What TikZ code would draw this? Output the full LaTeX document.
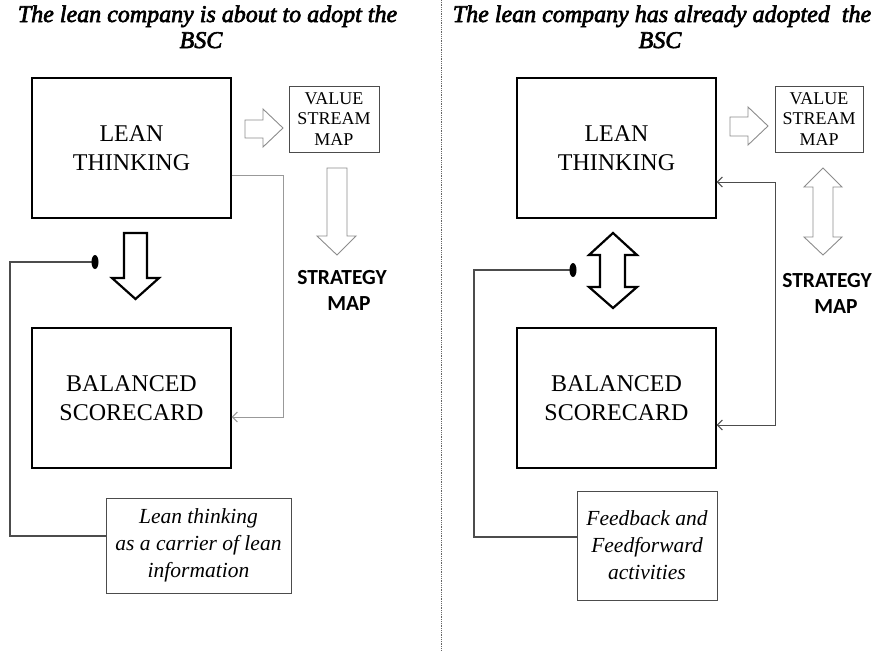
\documentclass[tikz,border=0pt]{standalone}
\usepackage{fontspec}
\setmainfont{Liberation Serif}
\newfontfamily\capsans{Carlito}
\newfontfamily\headfont[FakeBold=2.6]{Liberation Serif}
\usetikzlibrary{arrows.meta,shapes.geometric}

\begin{document}
\begin{tikzpicture}[x=1pt,y=-1pt,
  mainbox/.style={draw, line width=1.4pt, fill=white, minimum width=199pt, minimum height=140pt,
    align=center, inner sep=0pt, font=\fontsize{24}{29.5}\selectfont},
  vsmbox/.style={draw=black!70, line width=0.8pt, minimum height=66pt, align=center,
    inner sep=0pt, font=\fontsize{18}{20.5}\selectfont},
  notebox/.style={draw=black!70, line width=0.9pt, align=center, inner sep=0pt,
    font=\fontsize{21.5}{27}\selectfont\itshape},
  titletext/.style={anchor=base, inner sep=0pt, font=\fontsize{24}{26}\selectfont\headfont\itshape},
  mapcaption/.style={align=center, inner sep=0pt, font=\fontsize{21.5}{26}\selectfont\capsans\bfseries},
  bigarrow/.style={draw=black, line width=2.2pt, line join=miter, fill=white},
  lightarrow/.style={draw=black!45, line width=0.9pt, line join=miter, fill=white},
  barb/.tip={Straight Barb[length=5pt,width=10pt,line width=1pt]},
  linkline/.style={line width=1pt},
  fbline/.style={draw=black!70, line width=1.1pt},
  dotmark/.style={ellipse, fill=black, minimum width=7pt, minimum height=14pt, inner sep=0pt}
]
\useasboundingbox (0,0) rectangle (886,651);

% panel divider
\draw[black!60, line width=0.7pt, dash pattern=on 0.9pt off 0.9pt] (441,0) -- (441,651);

% ---------------- left panel ----------------
\node[titletext] (tL1) at (207.5,22) {The lean company is about to adopt the};
\node[titletext] (tL2) at (201,48) {BSC};

\node[mainbox] (ltL) at (131.5,148) {LEAN\\THINKING};
\node[mainbox] (bsL) at (131.5,398) {BALANCED\\SCORECARD};
\node[vsmbox, minimum width=90pt] (vsL) at (334,119) {VALUE\\STREAM\\MAP};
\node[mapcaption] (smL) at (342,290) {STRATEGY\\\hspace*{14pt}MAP};
\node[notebox, minimum width=185pt, minimum height=95pt] (nbL) at (198.5,545.5)
  {Lean thinking\\as a carrier of lean\\information};

% block arrows
\draw[lightarrow] (245,120) -- (263,120) -- (263,109) -- (283,128) -- (263,147) -- (263,138) -- (245,138) -- cycle;
\draw[lightarrow] (327,168) -- (347,168) -- (347,236) -- (356,236) -- (337,255) -- (317,236) -- (327,236) -- cycle;
\draw[bigarrow] (124,233) -- (147,233) -- (147,278) -- (159,278) -- (135.5,299) -- (112,278) -- (124,278) -- cycle;

% lean thinking to scorecard link
\coordinate (cL) at (283,0);
\draw[linkline, draw=black!40, -barb] ([yshift=-27pt]ltL.east) -- ([yshift=-27pt]ltL.east -| cL)
  |- ([yshift=-19pt]bsL.east);

% carrier loop
\coordinate (fbL) at (10,536);
\draw[fbline] (95,262) -| (fbL) |- ([yshift=9.5pt]nbL.west);
\node[dotmark] (dotL) at (95,262) {};

% ---------------- right panel ----------------
\node[titletext] (tR1) at (662,22) {The lean company has already adopted\ \ the};
\node[titletext] (tR2) at (660,48) {BSC};

\node[mainbox] (ltR) at (616.5,148) {LEAN\\THINKING};
\node[mainbox] (bsR) at (616.5,398) {BALANCED\\SCORECARD};
\node[vsmbox, minimum width=88pt] (vsR) at (819,119) {VALUE\\STREAM\\MAP};
\node[mapcaption] (smR) at (827,293.5) {STRATEGY\\\hspace*{18pt}MAP};
\node[notebox, minimum width=140pt, minimum height=109pt] (nbR) at (647,545.5)
  {Feedback and\\Feedforward\\activities};

% block arrows
\draw[lightarrow] (730,117) -- (748,117) -- (748,107) -- (768,126) -- (748,145) -- (748,136) -- (730,136) -- cycle;
\draw[lightarrow] (823,168) -- (842,187) -- (833,187) -- (833,237) -- (842,237) -- (823,255)
  -- (804,237) -- (813,237) -- (813,187) -- (804,187) -- cycle;
\draw[bigarrow] (613,233) -- (637,255) -- (625,255) -- (625,287) -- (637,287) -- (613,308)
  -- (589,287) -- (600,287) -- (600,255) -- (589,255) -- cycle;

% two-way link between lean thinking and scorecard
\coordinate (cR) at (775,0);
\draw[linkline, draw=black!70, barb-barb] ([yshift=-34pt]ltR.east) -- ([yshift=-34pt]ltR.east -| cR)
  |- ([yshift=-27pt]bsR.east);

% feedback loop
\coordinate (fbR) at (474,537);
\draw[fbline] (573,270) -| (fbR) |- ([yshift=8.5pt]nbR.west);
\node[dotmark] (dotR) at (573,270) {};
\end{tikzpicture}
\end{document}
